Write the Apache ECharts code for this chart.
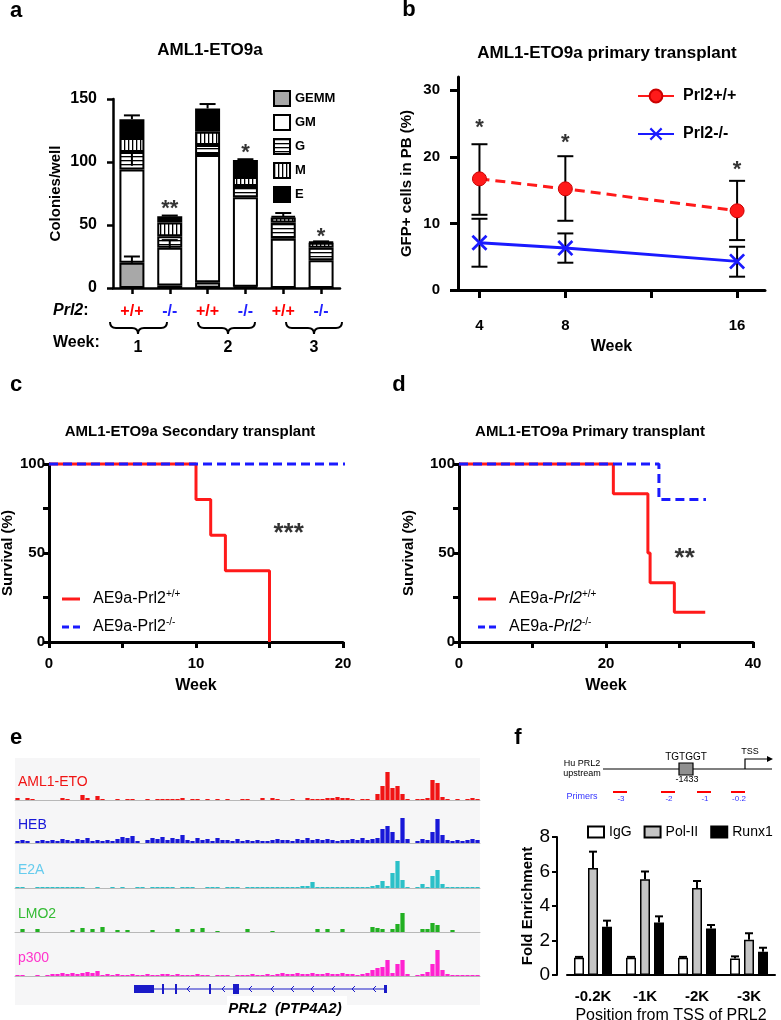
<!DOCTYPE html>
<html>
<head>
<meta charset="utf-8">
<script src="https://cdn.jsdelivr.net/npm/echarts@6/dist/echarts.min.js"></script>
<style>
html, body { margin: 0; background: #fff; }
#chart { width: 781px; height: 1020px; }
</style>
</head>
<body>
<div id="chart"></div>
<script>
// ---- panel a: colony counts (stacked) ----
const aGeno = ['+/+', '-/-', '+/+', '-/-', '+/+', '-/-']
const aWeek = ['1', '1', '2', '2', '3', '3']
const aGEMM = [20, 2, 4.5, 1, 0, 0]
const aGM = [74, 30, 101, 71, 39, 22]
const aG = [14, 9, 8, 9, 13, 10]
const aM = [11, 11, 10.5, 7, 4, 4]
const aE = [15, 5, 18.5, 13.6, 1, 0.5]
// error bars [bar, from, to]
const aErr = [[0, 134, 137], [0, 20, 25], [0, 97, 108], [1, 57, 57.5], [1, 31, 38], [2, 142.5, 146], [3, 101.6, 102.2], [4, 57, 59.5], [5, 36.5, 37]]
const aStarBar = [1, 3, 5]
const aStarY = [63, 107, 40.5]
const aStarTxt = ['**', '*', '*']

// ---- panel b: GFP+ cells ----
const bWeeks = [4, 8, 16]
const bWT = [16.7, 15.2, 11.9]
const bWTlo = [11.3, 10.4, 7.5]
const bWThi = [21.9, 20.1, 16.4]
const bKO = [7.1, 6.3, 4.3]
const bKOlo = [3.5, 4.1, 2.0]
const bKOhi = [10.7, 8.5, 6.5]
const bStarY = [24.3, 22.1, 18.0]

// ---- panel c: secondary transplant survival ----
const cWTx = [0, 10, 11, 12, 15]
const cWTy = [100, 80, 60, 40, 0]
const cKOx = [0, 20.4]
const cKOy = [100, 100]

// ---- panel d: primary transplant survival ----
const dWTx = [0, 21, 25.7, 26, 29.3, 33.5]
const dWTy = [100, 83.3, 50, 33.3, 16.7, 16.7]
const dKOx = [0, 27.2, 33.6]
const dKOy = [100, 80, 80]

// ---- panel e: ChIP-seq tracks (5px bins) ----
const trackNames = ['AML1-ETO', 'HEB', 'E2A', 'LMO2', 'p300']
const tAML1 = [2,0,2,1,0,0,0,0,0,2, 1,0,0,5,2,0,4,1,0,0, 1,0,1,1,0,0,1,0,1,1, 1,1,1,2,0,1,1,0,1,0, 1,0,1,0,0,1,1,0,0,2, 0,2,1,0,0,1,0,0,2,1, 1,1,2,2,3,2,2,1,0,1, 1,0,6,14,28,12,14,6,1,0, 1,1,2,20,17,3,1,0,1,0, 1,2,1]
const tHEB = [2,3,2,0,2,3,2,3,2,4, 3,2,4,3,5,2,3,2,3,2, 4,6,5,7,2,0,3,5,4,6, 3,5,4,8,3,2,5,3,4,2, 5,3,3,2,4,2,3,2,3,2, 2,3,4,3,3,2,4,3,5,3, 4,3,4,3,2,3,3,4,3,5, 3,4,5,14,17,11,3,25,4,0, 2,4,3,11,24,8,3,2,3,2, 3,4,3]
const tE2A = [1,1,0,0,1,1,1,1,1,1, 1,1,1,1,0,0,1,0,0,1, 0,1,0,0,1,1,0,1,1,1, 1,1,0,1,1,1,0,0,1,1, 1,0,1,1,1,0,1,1,1,1, 1,1,1,1,1,1,1,2,2,6, 1,1,1,1,1,1,1,1,1,1, 1,2,3,7,2,15,27,8,1,0, 1,4,1,12,18,4,1,1,1,1, 1,1,1]
const tLMO2 = [0,3,0,0,3,0,0,0,0,0, 0,2,0,4,0,3,0,5,0,0, 2,0,2,0,0,0,0,2,0,0, 0,0,3,0,0,3,0,4,0,0, 1,0,0,0,0,0,3,0,0,0, 0,1,0,0,0,0,0,0,0,0, 3,0,3,0,0,3,0,0,0,0, 0,5,4,3,0,3,8,19,0,0, 0,3,3,9,7,0,0,2,0,0, 0,0,0]
const tP300 = [1,1,0,0,1,0,1,2,2,3, 2,3,2,3,4,3,5,1,2,1, 2,1,1,2,1,1,2,1,1,2, 2,1,2,1,1,1,2,1,1,0, 1,1,1,0,1,1,1,2,1,1, 2,1,2,3,2,2,3,2,2,3, 2,2,3,2,2,3,2,2,1,2, 3,6,8,9,16,3,12,16,2,0, 1,2,4,12,26,6,2,1,1,1, 1,1,1]

// ---- panel f: ChIP-qPCR ----
const fCats = ['-0.2K', '-1K', '-2K', '-3K']
const fIgG = [1.0, 1.0, 1.0, 0.95]
const fIgGhi = [1.05, 1.05, 1.05, 1.08]
const fPol = [6.2, 5.55, 5.05, 2.05]
const fPolhi = [7.15, 6.0, 5.45, 2.42]
const fRunx = [2.8, 3.05, 2.7, 1.35]
const fRunxhi = [3.15, 3.4, 2.9, 1.58]

const F = 'Liberation Sans, Arial, Helvetica, sans-serif'
const chart = echarts.init(document.getElementById('chart'))

function stripes(dir) {
  const c = document.createElement('canvas')
  c.width = 4; c.height = 4
  const x = c.getContext('2d')
  x.fillStyle = '#fff'; x.fillRect(0, 0, 4, 4)
  x.fillStyle = '#000'
  if (dir === 'h') x.fillRect(0, 0, 4, 1.3); else x.fillRect(0, 0, 1.3, 4)
  return { image: c, repeat: 'repeat' }
}

function errRender(capW, both, offsets) {
  return function (params, api) {
    const off = offsets ? offsets[api.value(3)] : 0
    const p1 = api.coord([api.value(0), api.value(1)])
    const p2 = api.coord([api.value(0), api.value(2)])
    const cx = p1[0] + off
    const st = { stroke: '#000', lineWidth: 2 }
    const ch = [
      { type: 'line', shape: { x1: cx, y1: p1[1], x2: cx, y2: p2[1] }, style: st },
      { type: 'line', shape: { x1: cx - capW / 2, y1: p2[1], x2: cx + capW / 2, y2: p2[1] }, style: st }
    ]
    if (both) ch.push({ type: 'line', shape: { x1: cx - capW / 2, y1: p1[1], x2: cx + capW / 2, y2: p1[1] }, style: st })
    return { type: 'group', children: ch }
  }
}

const line = (w) => ({ show: true, onZero: false, lineStyle: { color: '#000', width: w } })
const tick = (w, len, extra) => Object.assign({ show: true, length: len, lineStyle: { color: '#000', width: w } }, extra || {})
const lbl = (size, margin, extra) => Object.assign({ show: true, margin, color: '#000', fontFamily: F, fontWeight: 'bold', fontSize: size }, extra || {})
const nm = (size, weight) => ({ color: '#000', fontFamily: F, fontWeight: weight || 'bold', fontSize: size })
const hidden = { show: false }

const trackBase = [800, 843, 888, 932, 976]
const trackColors = ['#f01414', '#1818d8', '#2cc0c8', '#22b022', '#ff22d0']
const trackLabelColors = ['#f01414', '#1818d8', '#66ccee', '#33bb33', '#ff33cc']
const trackData = [tAML1, tHEB, tE2A, tLMO2, tP300]
const bins = tAML1.map((_, i) => i)

const grids = [
  { left: 113, top: 99, width: 227, height: 189 },
  { left: 458, top: 77, width: 307, height: 213 },
  { left: 49, top: 464, width: 294, height: 178 },
  { left: 459, top: 464, width: 294, height: 178 }
]
trackBase.forEach(b => grids.push({ left: 15, top: b - 30, width: 465, height: 30 }))
grids.push({ left: 567, top: 837, width: 208, height: 138 })
grids.forEach(g => { g.outerBoundsMode = 'none'; g.containLabel = false })

const xAxes = [
  { type: 'category', gridIndex: 0, data: aGeno.map((g, i) => aWeek[i] + ' ' + g),
    axisLine: line(2.5), axisTick: tick(2.5, 6, { alignWithLabel: true, interval: 0 }),
    axisLabel: { interval: 0, margin: 16, formatter: v => v.split(' ')[1] === '+/+' ? '{wt|+/+}' : '{ko|-/-}',
      rich: { wt: { color: '#ff0000', fontFamily: F, fontWeight: 'bold', fontSize: 16 }, ko: { color: '#2222ff', fontFamily: F, fontWeight: 'bold', fontSize: 16 } } } },
  { type: 'value', gridIndex: 1, min: 3, max: 17.3, splitLine: hidden, axisLine: line(3),
    axisTick: tick(3, 8, { customValues: [4, 8, 12, 16] }), axisLabel: lbl(15, 28, { customValues: [4, 8, 16] }),
    name: 'Week', nameLocation: 'middle', nameGap: 49, nameTextStyle: nm(16) },
  { type: 'value', gridIndex: 2, min: 0, max: 20, interval: 5, splitLine: hidden, axisLine: line(3), axisTick: tick(3, 6),
    axisLabel: lbl(15, 14, { formatter: v => v % 10 === 0 ? v : '' }),
    name: 'Week', nameLocation: 'middle', nameGap: 36, nameTextStyle: nm(16) },
  { type: 'value', gridIndex: 3, min: 0, max: 40, interval: 10, splitLine: hidden, axisLine: line(3), axisTick: tick(3, 6),
    axisLabel: lbl(15, 14, { formatter: v => v % 20 === 0 ? v : '' }),
    name: 'Week', nameLocation: 'middle', nameGap: 36, nameTextStyle: nm(16) }
]
trackBase.forEach((b, i) => xAxes.push({ type: 'category', gridIndex: 4 + i, data: bins,
  axisLine: { show: true, lineStyle: { color: '#b8b8b8', width: 1 } }, axisTick: hidden, axisLabel: hidden }))
xAxes.push({ type: 'category', gridIndex: 9, data: fCats, axisLine: line(2), axisTick: hidden,
  axisLabel: lbl(15, 14, { interval: 0 }),
  name: 'Position from TSS of PRL2', nameLocation: 'middle', nameGap: 33, nameTextStyle: nm(16, 'normal') })

const yAxes = [
  { type: 'value', gridIndex: 0, min: 0, max: 150, interval: 50, splitLine: hidden, axisLine: line(2.5), axisTick: tick(2.5, 6),
    axisLabel: lbl(16, 16), name: 'Colonies/well', nameLocation: 'middle', nameGap: 50, nameTextStyle: nm(15) },
  { type: 'value', gridIndex: 1, min: 0, max: 32, splitLine: hidden, axisLine: line(3),
    axisTick: tick(3, 8, { customValues: [0, 10, 20, 30] }), axisLabel: lbl(15, 18, { customValues: [0, 10, 20, 30] }),
    name: 'GFP+ cells in PB (%)', nameLocation: 'middle', nameGap: 44, nameTextStyle: nm(15) },
  { type: 'value', gridIndex: 2, min: 0, max: 100, interval: 25, splitLine: hidden, axisLine: line(3), axisTick: tick(3, 6),
    axisLabel: lbl(15, 4, { formatter: v => v % 50 === 0 ? v : '' }),
    name: 'Survival (%)', nameLocation: 'middle', nameGap: 34, nameTextStyle: nm(15) },
  { type: 'value', gridIndex: 3, min: 0, max: 100, interval: 25, splitLine: hidden, axisLine: line(3), axisTick: tick(3, 6),
    axisLabel: lbl(15, 4, { formatter: v => v % 50 === 0 ? v : '' }),
    name: 'Survival (%)', nameLocation: 'middle', nameGap: 43, nameTextStyle: nm(15) }
]
trackBase.forEach((b, i) => yAxes.push({ type: 'value', gridIndex: 4 + i, min: 0, max: 30, show: false, splitLine: hidden }))
yAxes.push({ type: 'value', gridIndex: 9, min: 0, max: 8, interval: 2, offset: 10, splitLine: hidden,
  axisLine: line(2), axisTick: tick(2, 5), axisLabel: lbl(19, 7, { fontWeight: 'normal' }),
  name: 'Fold Enrichment', nameLocation: 'middle', nameGap: 20, nameTextStyle: nm(15) })

const barStyle = (c) => ({ color: c, borderColor: '#000', borderWidth: 2 })
const star = (xi, yi, data, size) => ({
  type: 'scatter', xAxisIndex: xi, yAxisIndex: yi, symbolSize: 1, itemStyle: { color: 'transparent' }, silent: true, z: 10,
  label: { show: true, position: 'inside', formatter: '{b}', color: '#000', fontFamily: F, fontWeight: 'bold', fontSize: size },
  data
})

const series = [
  { name: 'GEMM', type: 'bar', stack: 'a', barWidth: 25, data: aGEMM, itemStyle: barStyle('#a8a8a8') },
  { name: 'GM', type: 'bar', stack: 'a', barWidth: 25, data: aGM, itemStyle: barStyle('#ffffff') },
  { name: 'G', type: 'bar', stack: 'a', barWidth: 25, data: aG, itemStyle: barStyle(stripes('h')) },
  { name: 'M', type: 'bar', stack: 'a', barWidth: 25, data: aM, itemStyle: barStyle(stripes('v')) },
  { name: 'E', type: 'bar', stack: 'a', barWidth: 25, data: aE, itemStyle: barStyle('#000000') },
  { type: 'custom', xAxisIndex: 0, yAxisIndex: 0, renderItem: errRender(16, false), data: aErr, z: 5, silent: true },
  star(0, 0, aStarBar.map((b, i) => ({ name: aStarTxt[i], value: [b, aStarY[i]] })), 22),

  { type: 'custom', xAxisIndex: 1, yAxisIndex: 1, renderItem: errRender(16, true), z: 1, silent: true,
    data: bWeeks.map((w, i) => [w, bWTlo[i], bWThi[i]]).concat(bWeeks.map((w, i) => [w, bKOlo[i], bKOhi[i]])) },
  { name: 'Prl2+/+', type: 'line', xAxisIndex: 1, yAxisIndex: 1, data: bWeeks.map((w, i) => [w, bWT[i]]),
    symbol: 'circle', symbolSize: 14, itemStyle: { color: '#ff1a1a', borderColor: '#c00', borderWidth: 1 },
    lineStyle: { color: '#ff1a1a', width: 3, type: [10, 6] }, z: 3 },
  { name: 'Prl2-/-', type: 'line', xAxisIndex: 1, yAxisIndex: 1, data: bWeeks.map((w, i) => [w, bKO[i]]),
    symbol: 'path://M0,1.2 L1.2,0 L5,3.8 L8.8,0 L10,1.2 L6.2,5 L10,8.8 L8.8,10 L5,6.2 L1.2,10 L0,8.8 L3.8,5 Z', symbolSize: 16,
    itemStyle: { color: '#1a1aff' }, lineStyle: { color: '#1a1aff', width: 3 }, z: 3 },
  star(1, 1, bWeeks.map((w, i) => ({ name: '*', value: [w, bStarY[i]] })), 22),

  { name: 'cWT', type: 'line', xAxisIndex: 2, yAxisIndex: 2, step: 'end', symbol: 'none', clip: false,
    data: cWTx.map((x, i) => [x, cWTy[i]]), lineStyle: { color: '#ff1a1a', width: 3 }, itemStyle: { color: '#ff1a1a' }, z: 3 },
  { name: 'cKO', type: 'line', xAxisIndex: 2, yAxisIndex: 2, symbol: 'none', clip: false,
    data: cKOx.map((x, i) => [x, cKOy[i]]), lineStyle: { color: '#1a1aff', width: 3, type: [9, 5] }, itemStyle: { color: '#1a1aff' }, z: 4 },
  star(2, 2, [{ name: '***', value: [16.3, 61] }], 26),

  { name: 'dWT', type: 'line', xAxisIndex: 3, yAxisIndex: 3, step: 'end', symbol: 'none', clip: false,
    data: dWTx.map((x, i) => [x, dWTy[i]]), lineStyle: { color: '#ff1a1a', width: 3 }, itemStyle: { color: '#ff1a1a' }, z: 3 },
  { name: 'dKO', type: 'line', xAxisIndex: 3, yAxisIndex: 3, step: 'end', symbol: 'none', clip: false,
    data: dKOx.map((x, i) => [x, dKOy[i]]), lineStyle: { color: '#1a1aff', width: 3, type: [9, 5] }, itemStyle: { color: '#1a1aff' }, z: 4 },
  star(3, 3, [{ name: '**', value: [30.7, 47] }], 26)
]
trackData.forEach((d, i) => series.push({ type: 'bar', xAxisIndex: 4 + i, yAxisIndex: 4 + i, data: d,
  barCategoryGap: '15%', itemStyle: { color: trackColors[i] }, silent: true }))

const fBar = (name, data, c) => ({ name, type: 'bar', xAxisIndex: 9, yAxisIndex: 9, data, barWidth: 10, barGap: '40%',
  itemStyle: { color: c, borderColor: '#000', borderWidth: 1.5 } })
series.push(fBar('IgG', fIgG, '#ffffff'), fBar('Pol-II', fPol, '#c4c4c4'), fBar('Runx1', fRunx, '#000000'))
series.push({ type: 'custom', xAxisIndex: 9, yAxisIndex: 9, renderItem: errRender(8, false, [-14, 0, 14]), z: 5, silent: true,
  data: fCats.map((c, i) => [i, fIgG[i], fIgGhi[i], 0])
    .concat(fCats.map((c, i) => [i, fPol[i], fPolhi[i], 1]))
    .concat(fCats.map((c, i) => [i, fRunx[i], fRunxhi[i], 2])) })

const legTxt = { color: '#000', fontFamily: F }
const survRich = {
  n: { fontFamily: F, fontSize: 16, color: '#000', lineHeight: 20 },
  i: { fontFamily: F, fontSize: 16, fontStyle: 'italic', color: '#000', lineHeight: 20 },
  s: { fontFamily: F, fontSize: 10, color: '#000', verticalAlign: 'top', lineHeight: 12 }
}
const solidIcon = 'path://M0,0 L18,0 L18,3 L0,3 Z'
const dashIcon = 'path://M0,0 L7,0 L7,3 L0,3 Z M11,0 L18,0 L18,3 L11,3 Z'
const survLegend = (names, left, fmt) => ({
  data: [{ name: names[0], icon: solidIcon }, { name: names[1], icon: dashIcon }],
  left, top: 589, padding: 0, orient: 'vertical', itemWidth: 18, itemHeight: 3, itemGap: 10, selectedMode: false,
  formatter: fmt, textStyle: { padding: [0, 0, 0, 8], rich: survRich }
})
const legends = [
  { data: ['GEMM', 'GM', 'G', 'M', 'E'], left: 273, top: 90, padding: 0, orient: 'vertical', icon: 'rect', itemWidth: 16, itemHeight: 15, itemGap: 7,
    selectedMode: false, textStyle: Object.assign({ fontWeight: 'bold', fontSize: 13 }, legTxt) },
  { data: ['Prl2+/+', 'Prl2-/-'], left: 637, top: 88, padding: 0, orient: 'vertical', itemWidth: 36, itemHeight: 16, itemGap: 22,
    selectedMode: false, lineStyle: { type: 'solid' }, textStyle: Object.assign({ fontWeight: 'bold', fontSize: 16, padding: [0, 0, 0, 4] }, legTxt) },
  survLegend(['cWT', 'cKO'], 62, n => n === 'cWT' ? '{n|AE9a-Prl2}{s|+/+}' : '{n|AE9a-Prl2}{s|-/-}'),
  survLegend(['dWT', 'dKO'], 478, n => n === 'dWT' ? '{n|AE9a-}{i|Prl2}{s|+/+}' : '{n|AE9a-}{i|Prl2}{s|-/-}'),
  { data: ['IgG', 'Pol-II', 'Runx1'], left: 587, top: 825, width: 240, padding: 0, orient: 'horizontal', icon: 'rect', itemWidth: 16, itemHeight: 11, itemGap: 12,
    selectedMode: false, textStyle: Object.assign({ fontSize: 14 }, legTxt) }
]

const txt = (x, y, text, font, fill, align) => ({ type: 'text', x, y, z: 100, silent: true,
  style: { text, font, fill: fill || '#000', textAlign: align || 'center', textVerticalAlign: 'middle' } })
const B = (s) => 'bold ' + s + 'px ' + F
const N = (s) => s + 'px ' + F
const ln = (x1, y1, x2, y2, c, w) => ({ type: 'line', z: 100, silent: true, shape: { x1, y1, x2, y2 }, style: { stroke: c, lineWidth: w } })
const qc = (x1, y1, cx, cy, x2, y2) => ({ type: 'bezierCurve', z: 100, silent: true,
  shape: { x1, y1, x2, y2, cpx1: cx, cpy1: cy }, style: { stroke: '#000', lineWidth: 2, fill: null } })
function brace(xa, xb, xm) {
  const y0 = 322, y1 = 328, y2 = 334
  return [
    qc(xa, y0, xa, y1, xa + 6, y1), ln(xa + 6, y1, xm - 6, y1, '#000', 2),
    qc(xm - 6, y1, xm, y1, xm, y2), qc(xm, y2, xm, y1, xm + 6, y1),
    ln(xm + 6, y1, xb - 6, y1, '#000', 2), qc(xb - 6, y1, xb, y1, xb, y0)
  ]
}

const graphic = [
  // panel letters & titles
  txt(16, 11, 'a', B(22)), txt(409, 10, 'b', B(22)), txt(16, 385, 'c', B(22)), txt(399, 385, 'd', B(22)),
  txt(16, 738, 'e', B(22)), txt(518, 738, 'f', B(22)),
  txt(210, 50, 'AML1-ETO9a', B(17)),
  txt(607, 53, 'AML1-ETO9a primary transplant', B(17)),
  txt(190, 432, 'AML1-ETO9a Secondary transplant', B(15)),
  txt(590, 432, 'AML1-ETO9a Primary transplant', B(15)),
  // panel a annotations below axis
  { type: 'text', x: 53, y: 311, z: 100, silent: true, style: { text: '{i|Prl2}{n|:}', textVerticalAlign: 'middle',
    rich: { i: { font: 'italic bold 16px ' + F, fill: '#000' }, n: { font: B(16), fill: '#000' } } } },
  txt(53, 343, 'Week:', B(16), '#000', 'left'),
  ...brace(110, 167, 138), ...brace(198, 255, 228), ...brace(286, 342, 314),
  txt(138, 348, '1', B(16)), txt(228, 348, '2', B(16)), txt(314, 348, '3', B(16)),
  // panel e background and gene model
  { type: 'rect', z: -1, silent: true, shape: { x: 15, y: 758, width: 465, height: 247 }, style: { fill: '#f6f6f7' } },
  { type: 'rect', z: -1, silent: true, shape: { x: 227, y: 996, width: 120, height: 10 }, style: { fill: '#ffffff' } },
  ln(134, 989, 387, 989, '#1a1ac8', 1.2),
  { type: 'rect', z: 100, silent: true, shape: { x: 134, y: 985, width: 20, height: 8 }, style: { fill: '#1a1ac8' } },
  { type: 'rect', z: 100, silent: true, shape: { x: 233, y: 984, width: 6, height: 10 }, style: { fill: '#1a1ac8' } },
  { type: 'rect', z: 100, silent: true, shape: { x: 384, y: 985, width: 3, height: 8 }, style: { fill: '#1a1ac8' } },
  ln(163, 984, 163, 994, '#1a1ac8', 2), ln(176, 984, 176, 994, '#1a1ac8', 2), ln(210, 984, 210, 994, '#1a1ac8', 2),
  txt(285, 1009, 'PRL2  (PTP4A2)', 'italic bold 15px ' + F)
]
;[188, 223, 250, 272, 292, 312, 333, 353, 374].forEach(x => graphic.push({ type: 'polyline', z: 100, silent: true,
  shape: { points: [[x + 2, 986], [x - 1, 989], [x + 2, 992]] }, style: { stroke: '#1a1ac8', lineWidth: 1, fill: null } }))
trackNames.forEach((n, i) => graphic.push(txt(18, trackBase[i] - 18, n, N(14), trackLabelColors[i], 'left')))
// panel f promoter diagram
graphic.push(
  txt(582, 764, 'Hu PRL2', N(9)), txt(582, 774, 'upstream', N(9)),
  ln(603, 769, 772, 769, '#000', 1.2),
  { type: 'rect', z: 101, silent: true, shape: { x: 679, y: 763, width: 14, height: 12 }, style: { fill: '#909090', stroke: '#000', lineWidth: 1.2 } },
  txt(686, 757, 'TGTGGT', N(10)), txt(687, 780, '-1433', N(9)),
  { type: 'polyline', z: 100, silent: true, shape: { points: [[745, 769], [745, 759], [768, 759]] }, style: { stroke: '#000', lineWidth: 1.2, fill: null } },
  { type: 'polygon', z: 100, silent: true, shape: { points: [[767, 756], [773, 759], [767, 762]] }, style: { fill: '#000' } },
  txt(750, 752, 'TSS', N(9)),
  txt(582, 797, 'Primers', N(9), '#3333ff')
)
;[[613, 627, '-3'], [661, 675, '-2'], [697, 711, '-1'], [731, 745, '-0.2']].forEach(p => {
  graphic.push(ln(p[0], 792, p[1], 792, '#ff0000', 2))
  graphic.push(txt((p[0] + p[1]) / 2 + 1, 799, p[2], N(8), '#3333ff'))
})

chart.setOption({
  animation: false,
  backgroundColor: '#fff',
  textStyle: { fontFamily: F },
  grid: grids,
  xAxis: xAxes,
  yAxis: yAxes,
  legend: legends,
  series,
  graphic
})
</script>
</body>
</html>
